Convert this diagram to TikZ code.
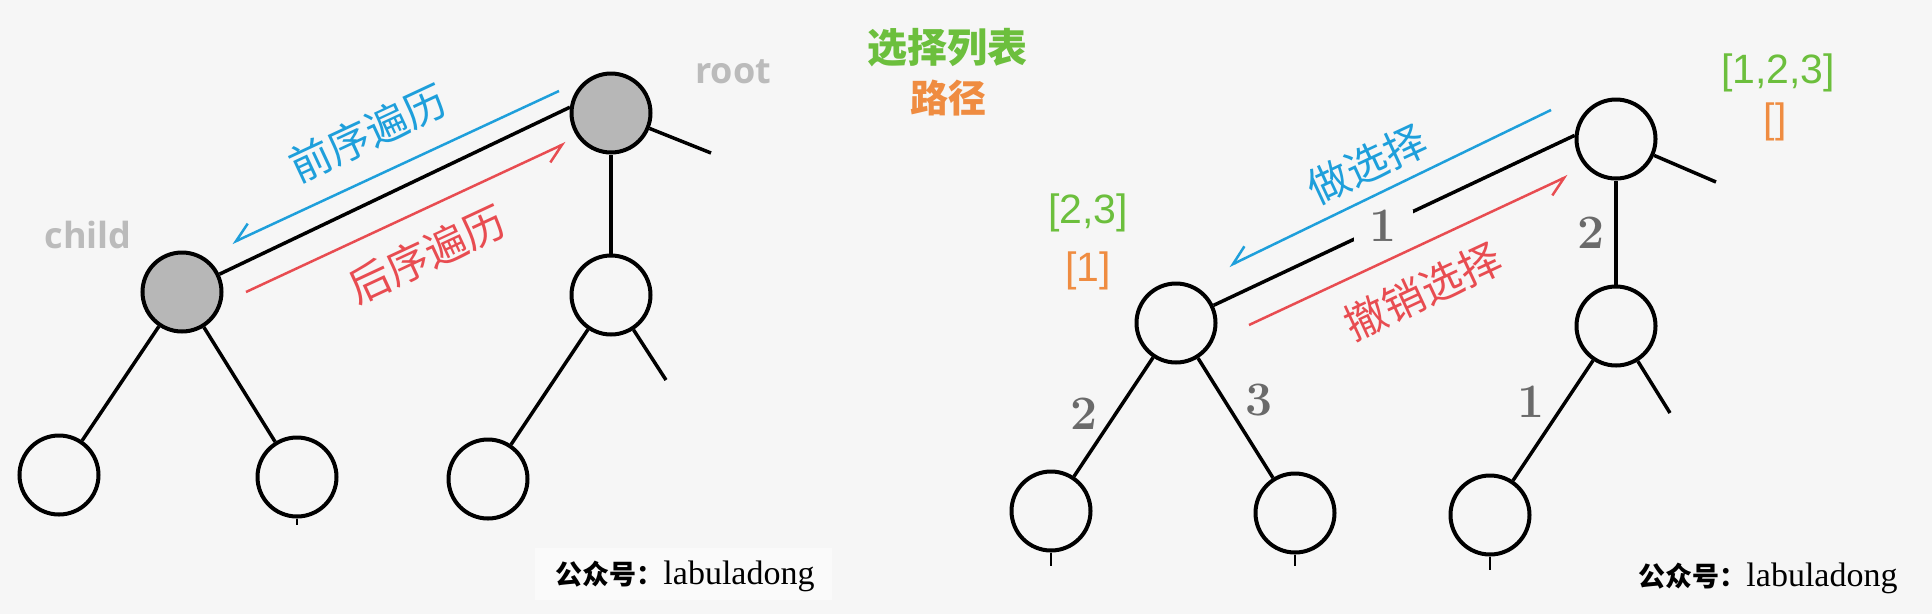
\documentclass[tikz,border=0pt]{standalone}
\usepackage{fontspec}
\usetikzlibrary{arrows.meta}
\newfontfamily\cjk{Noto Sans CJK SC}
\newfontfamily\osans{Open Sans}
\newfontfamily\lsans{Liberation Sans}
\newfontfamily\lserif{Liberation Serif}
\definecolor{bg}{HTML}{F6F6F6}
\definecolor{wmbg}{HTML}{FAFAFA}
\definecolor{nodegray}{HTML}{B7B7B7}
\definecolor{myblue}{HTML}{1E9FDB}
\definecolor{myred}{HTML}{E84C51}
\definecolor{mygreen}{HTML}{6CBF3D}
\definecolor{myorange}{HTML}{EF8C41}
\definecolor{lblgray}{HTML}{BBBBBB}
\definecolor{digitgray}{HTML}{6A6A6A}
\begin{document}
\begin{tikzpicture}[x=1pt,y=-1pt,
  tn/.style={circle, draw=black, line width=4pt, minimum size=79pt, inner sep=0pt},
  gn/.style={tn, fill=nodegray},
  edge/.style={line width=3.5pt, black},
  tick/.style={line width=2pt, black},
  harpblue/.style={draw=myblue, line width=2.5pt, -{Straight Barb[right, length=18pt, width=22pt]}},
  harpred/.style={draw=myred, line width=2.5pt, -{Straight Barb[right, length=18pt, width=22pt]}},
  lbl/.style={font=\cjk\fontsize{42}{44}\selectfont, inner sep=0pt, rotate=25},
  gtext/.style={font=\osans\bfseries\fontsize{36}{38}\selectfont, text=lblgray, inner sep=0pt},
  bracket/.style={font=\lsans\fontsize{41}{43}\selectfont, inner sep=0pt},
  digit/.style={font=\bfseries\fontsize{48}{50}\selectfont, text=digitgray, inner sep=1pt},
  wm/.style={inner sep=0pt, text=black}
]
\path[use as bounding box, fill=bg] (0,0) rectangle (1932,614);

% ---------------- left panel ----------------
\fill[wmbg] (535,548) rectangle (832,600);
\node[gn] (rootL) at (611,113) {};
\node[gn] (childL) at (182,292) {};
\node[tn] (midL) at (611,295) {};
\node[tn] (llL) at (59,475) {};
\node[tn] (lrL) at (297,477) {};
\node[tn] (rlL) at (488,479) {};
\coordinate (stubA) at (711,153);
\coordinate (stubB) at (666,380);
\coordinate (tickL) at (297,525);

\draw[edge] (childL) -- (rootL.172);
\draw[edge] (rootL) -- (stubA);
\draw[edge] (rootL) -- (midL);
\draw[edge] (childL) -- (llL);
\draw[edge] (childL) -- (lrL);
\draw[edge] (midL) -- (rlL);
\draw[edge] (midL) -- (stubB);
\draw[line width=1.5pt] (lrL.south) -- (tickL);

\coordinate (b1s) at (559,91);
\coordinate (b1e) at (232,243);
\coordinate (r1s) at (246,292);
\coordinate (r1e) at (566,143);
\draw[harpblue] (b1s) -- (b1e);
\draw[harpred] (r1s) -- (r1e);

\node[lbl, text=myblue] (preL) at (368,133) {前序遍历};
\node[lbl, text=myred] (postL) at (427,254) {后序遍历};
\node[gtext] (rootT) at (733,72) {root};
\node[gtext] (childT) at (88,235) {child};

\node[wm, anchor=base] (wmL) at (685,584) {{\cjk\bfseries\fontsize{27}{28}\selectfont 公众号：}{\lserif\fontsize{34}{36}\selectfont labuladong}};

% ---------------- right panel ----------------
\node[font=\cjk\bfseries\fontsize{40}{42}\selectfont, text=mygreen, inner sep=0pt] (listT) at (947,48) {选择列表};
\node[font=\cjk\bfseries\fontsize{38}{40}\selectfont, text=myorange, inner sep=0pt] (pathT) at (948,98) {路径};

\node[tn] (rootR) at (1616,139) {};
\node[tn] (childR) at (1176,323) {};
\node[tn] (midR) at (1616,326) {};
\node[tn] (laR) at (1051,511) {};
\node[tn] (lbR) at (1295,513) {};
\node[tn] (lcR) at (1490,515) {};
\coordinate (stubC) at (1716,182);
\coordinate (stubD) at (1670,413);
\coordinate (tickA) at (1051,566);
\coordinate (tickB) at (1295,566);
\coordinate (tickC) at (1490,570);

\draw[edge] (childR) -- node[digit, fill=bg, inner xsep=16pt, inner ysep=0pt, pos=0.47] (d1) {1} (rootR.175);
\draw[edge] (rootR) -- (stubC);
\draw[edge] (rootR) -- (midR);
\draw[edge] (childR) -- (laR);
\draw[edge] (childR) -- (lbR);
\draw[edge] (midR) -- (lcR);
\draw[edge] (midR) -- (stubD);
\draw[tick] (laR.south) -- (tickA);
\draw[tick] (lbR.south) -- (tickB);
\draw[tick] (lcR.south) -- (tickC);

\node[digit] (d2) at (1591,233) {2};
\node[digit] (d3) at (1084,414) {2};
\node[digit] (d4) at (1259,400) {3};
\node[digit] (d5) at (1531,402) {1};

\coordinate (b2s) at (1551,110);
\coordinate (b2e) at (1229,266);
\coordinate (r2s) at (1249,325);
\coordinate (r2e) at (1568,176);
\draw[harpblue] (b2s) -- (b2e);
\draw[harpred] (r2s) -- (r2e);

\node[lbl, text=myblue] (doT) at (1367,164) {做选择};
\node[lbl, text=myred] (undoT) at (1423,291) {撤销选择};

\node[bracket, text=mygreen] (lst1) at (1778,73) {[1,2,3]};
\node[bracket, text=myorange] (pth1) at (1775,122) {[]};
\node[bracket, text=mygreen] (lst2) at (1088,213) {[2,3]};
\node[bracket, text=myorange] (pth2) at (1088,271) {[1]};

\node[wm, anchor=base] (wmR) at (1768,586) {{\cjk\bfseries\fontsize{27}{28}\selectfont 公众号：}{\lserif\fontsize{34}{36}\selectfont labuladong}};
\end{tikzpicture}
\end{document}
